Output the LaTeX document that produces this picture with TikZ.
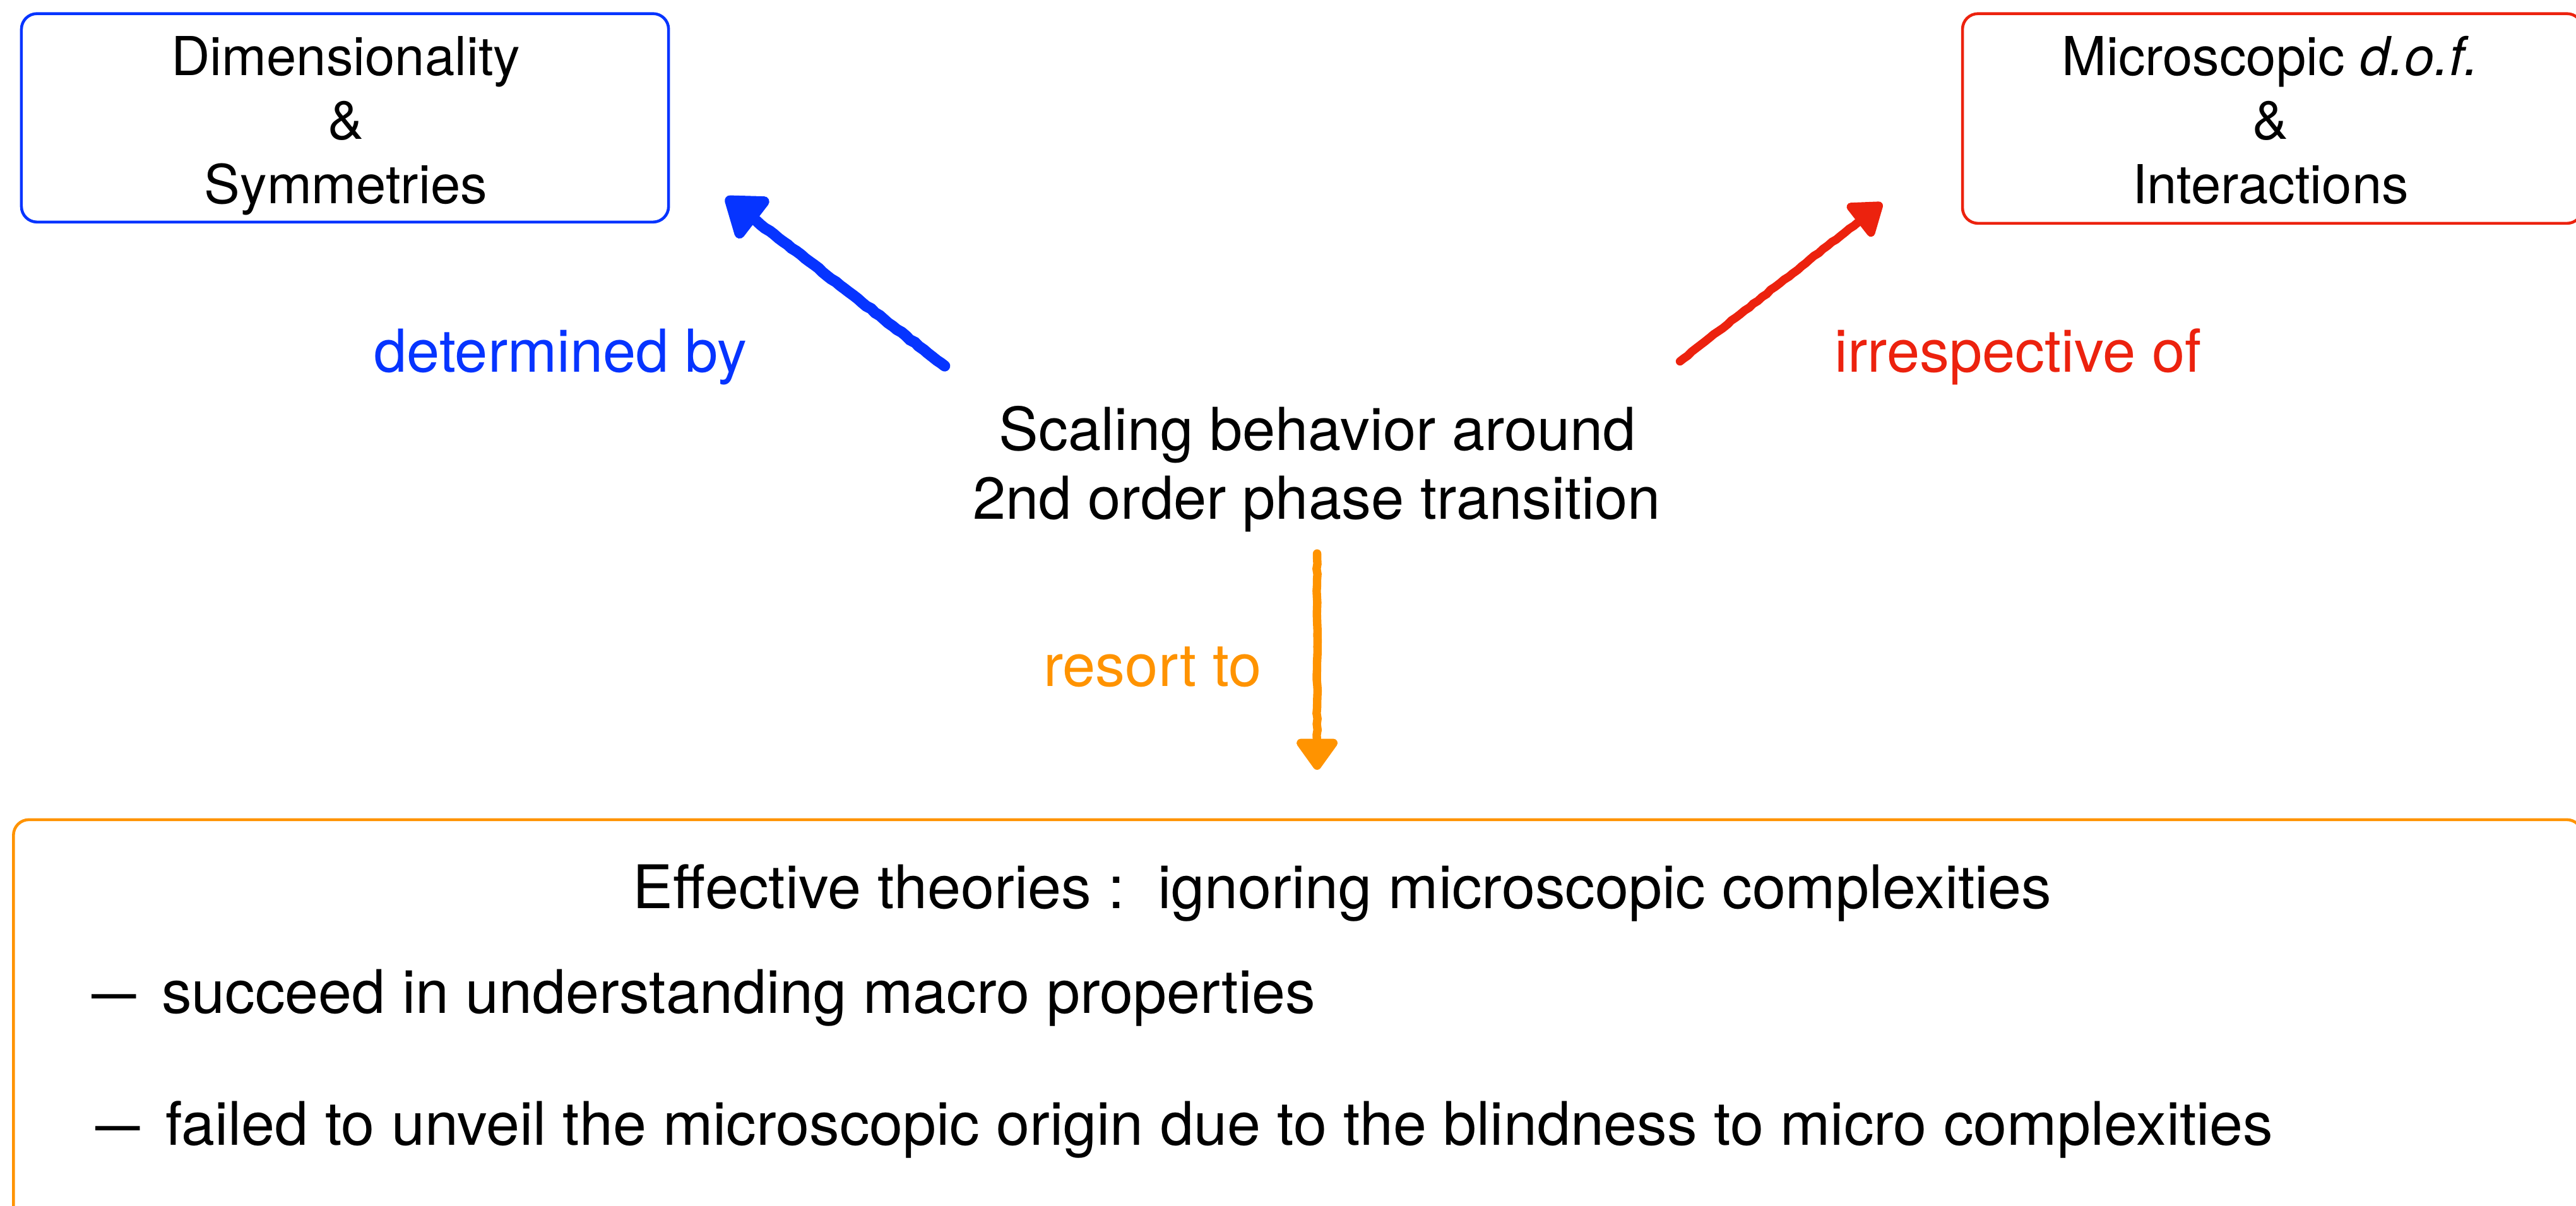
\documentclass[tikz,border=0pt]{standalone}
\usepackage{graphicx}
\usepackage{fontspec}
\setmainfont{TeX Gyre Heros}
\usetikzlibrary{arrows.meta,decorations.pathmorphing}

\definecolor{inkblue}{RGB}{6,52,255}
\definecolor{inkred}{RGB}{236,34,14}
\definecolor{inkorange}{RGB}{255,147,0}

\tikzset{
  txt/.style={inner sep=0pt, anchor=base, font=\fontsize{26.7}{30}\selectfont},
  boxtxt/.style={txt, font=\fontsize{24.2}{28}\selectfont},
  listtxt/.style={txt, anchor=base west, font=\fontsize{27.1}{30}\selectfont},
  frame/.style={draw=#1, line width=1.3pt, rounded corners=7pt, inner sep=0pt},
  chalk/.style={draw=#1, line width=3.8pt, line cap=round,
    decorate, decoration={random steps, segment length=2.5pt, amplitude=0.25pt,
      pre length=2pt, post length=12pt}},
  bighead/.style={-{Triangle[width=26pt,length=19pt,round]}},
  smallhead/.style={-{Triangle[width=21pt,length=15.5pt,round]}},
}

\newcommand{\bardash}{\scalebox{0.74}[1]{—}}

\begin{document}
\begin{tikzpicture}[x=0.026025cm, y=-0.026025cm]
  \useasboundingbox (0,0) rectangle (1568,734);
  \clip (0,0) rectangle (1568,734);

  % frames
  \node[frame=inkblue, minimum width=10.254cm, minimum height=3.303cm] (dimbox) at (210,71.75) {};
  \node[frame=inkred, minimum width=9.824cm, minimum height=3.323cm] (micbox) at (1383.25,72.15) {};
  \node[frame=inkorange, minimum width=40.703cm, minimum height=6.48cm] (effbox) at (790,623.5) {};

  % upper left box text
  \node[boxtxt] (dim1) at (210.5,45.8) {Dimensionality};
  \node[boxtxt] (dim2) at (210.5,84.8) {\&};
  \node[boxtxt] (dim3) at (210.5,124) {Symmetries};

  % upper right box text
  \node[boxtxt] (mic1) at (1382,45.8) {Microscopic \textit{d.o.f.}};
  \node[boxtxt] (mic2) at (1382,84.8) {\&};
  \node[boxtxt] (mic3) at (1382,124) {Interactions};

  % central statement
  \node[txt] (sc1) at (802,274) {Scaling behavior around};
  \node[txt] (sc2) at (801.4,316) {2nd order phase transition};

  % arrow labels
  \node[txt, anchor=base west, text=inkblue] (det) at (227.5,226.4) {determined by};
  \node[txt, text=inkred] (irr) at (1228.5,226.4) {irrespective of};
  \node[txt, anchor=base west, text=inkorange] (res) at (635,418) {resort to};

  % lower box text
  \node[listtxt] (eff) at (385,553) {Effective theories :\ \ ignoring microscopic complexities};
  \node[listtxt] (suc) at (55.7,617) {\bardash\hspace{0.42em}succeed in understanding macro properties};
  \node[listtxt] (fail) at (58,697) {\bardash\hspace{0.42em}failed to unveil the microscopic origin due to the blindness to micro complexities};

  % arrows
  \coordinate (bS) at (575,222.8);
  \coordinate (bT) at (441.8,120.2);
  \coordinate (rS) at (1022.6,220);
  \coordinate (rT) at (1145.6,123.7);
  \coordinate (oS) at (801.7,337);
  \coordinate (oT) at (801.7,468.7);

  \draw[chalk=inkblue, line width=5pt, bighead] (bS) -- (bT);
  \draw[chalk=inkred, smallhead] (rS) -- (rT);
  \draw[chalk=inkorange, smallhead] (oS) -- (oT);
\end{tikzpicture}
\end{document}
